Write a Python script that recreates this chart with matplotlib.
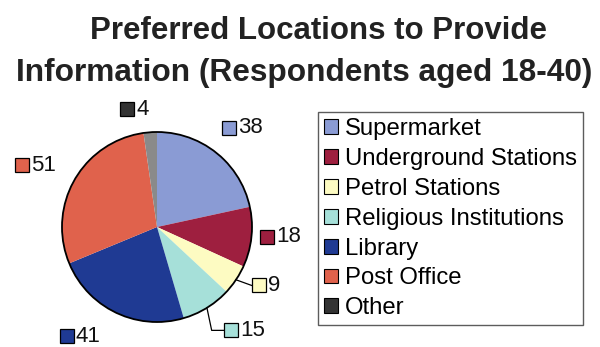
import numpy as np
import matplotlib
matplotlib.use("Agg")
import matplotlib.pyplot as plt
from matplotlib.patches import Patch, Circle

plt.rcParams['font.family'] = ['Liberation Sans', 'DejaVu Sans']

# survey answers, clockwise from 12 o'clock
locations = ["Supermarket", "Underground Stations", "Petrol Stations",
             "Religious Institutions", "Library", "Post Office", "Other"]
respondents = [38, 18, 9, 15, 41, 51, 4]

slice_colors = ['#8a9bd4', '#9e1f3f', '#fdfbc2', '#a6e0d9',
                '#1f3a93', '#e0624c', '#8a8a8a']
# keys in legend / value labels (Other key is drawn darker)
key_colors = slice_colors[:-1] + ['#333333']

# value label placement: radius (in pie radii) and clockwise angle shift (deg)
label_dist = [1.29, 1.16, 1.24, 1.34, 1.49, 1.56, 1.28]
label_shift = [-3, -1, -4, -4, 14, -5, -10]
leader = [None, None, 'straight', 'elbow', None, None, None]

fig = plt.figure(figsize=(6, 3.47), dpi=100)
ax = fig.add_axes([5 / 600, -32 / 347, 304 / 600, 304 / 347])

wedges, _ = ax.pie(respondents, colors=slice_colors, startangle=90,
                   counterclock=False, wedgeprops=dict(linewidth=0))
ax.add_patch(Circle((0, 0), 1, fill=False, edgecolor='black', lw=1.3))
ax.set_xlim(-1.6, 1.6)
ax.set_ylim(-1.6, 1.6)
ax.set_aspect('equal')
ax.axis('off')

for w, val, col, r, sh, ld in zip(wedges, respondents, key_colors,
                                  label_dist, label_shift, leader):
    mid = np.deg2rad((w.theta1 + w.theta2) / 2)
    ang = mid - np.deg2rad(sh)
    x, y = r * np.cos(ang), r * np.sin(ang)
    if ld is not None:
        ex, ey = np.cos(mid), np.sin(mid)
        if ld == 'elbow':
            ax.plot([ex, ex + 0.05, x - 0.08], [ey, y, y], color='black', lw=0.9)
        else:
            ax.plot([ex, x - 0.08], [ey, y], color='black', lw=0.9)
    ax.plot(x, y, marker='s', ms=10, mfc=col, mec='black', mew=0.9, clip_on=False)
    ax.annotate(str(val), (x, y), xytext=(6.5, 0), textcoords='offset points',
                ha='left', va='center', fontsize=16, annotation_clip=False,
                color='#111111')

fig.text(318 / 600, 1 - 39 / 347, "Preferred Locations to Provide",
         ha='center', va='baseline', fontsize=22.5, fontweight='bold',
         color='#222222')
fig.text(304 / 600, 1 - 81 / 347, "Information (Respondents aged 18-40)",
         ha='center', va='baseline', fontsize=22.8, fontweight='bold',
         color='#222222')

handles = [Patch(facecolor=c, edgecolor='black', linewidth=0.8) for c in key_colors]
leg = fig.legend(handles, locations, loc='upper left',
                 bbox_to_anchor=(318 / 600, 1 - 112 / 347), fontsize=17.2,
                 frameon=True, fancybox=False, edgecolor='#333333',
                 handlelength=0.58, handleheight=0.58, handletextpad=0.3,
                 labelspacing=0.33, borderpad=0.25, borderaxespad=0)
leg.get_frame().set_linewidth(1.0)

fig.savefig("out.png", dpi=100)
